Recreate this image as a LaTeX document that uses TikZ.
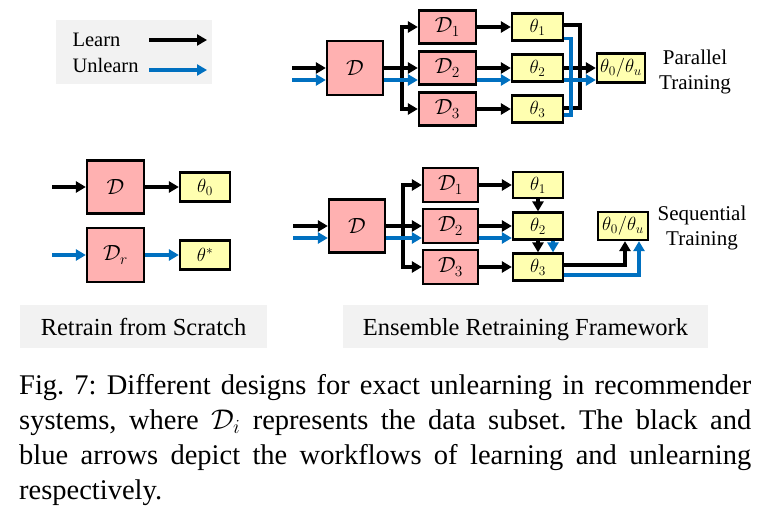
\documentclass[tikz,border=0pt]{standalone}
\usepackage{fix-cm}
\usepackage[no-math]{fontspec}
\setmainfont{Liberation Serif}
\usetikzlibrary{arrows.meta}
\definecolor{datapink}{RGB}{255,177,177}
\definecolor{modelyellow}{RGB}{255,255,176}
\definecolor{unblue}{RGB}{0,112,192}
\definecolor{panelgray}{RGB}{242,242,242}
\frenchspacing

\begin{document}
\begin{tikzpicture}[x=1pt,y=-1pt,
    data/.style={draw,line width=2.2pt,fill=datapink,inner sep=0pt,font=\fontsize{22}{26}\selectfont},
    model/.style={draw,line width=2.2pt,fill=modelyellow,inner sep=0pt,font=\fontsize{19}{22}\selectfont},
    learn/.style={line width=3.2pt,-{Triangle[length=10pt,width=11pt]}},
    learnbold/.style={learn,line width=4.8pt},
    unlearn/.style={learn,unblue},
    wire/.style={line width=3.2pt},
    panel/.style={fill=panelgray,inner sep=0pt,text depth=0pt,font=\fontsize{24.5}{28}\selectfont},
    tag/.style={align=center,font=\fontsize{21}{25}\selectfont}]
    \useasboundingbox (0,0) rectangle (771,516);

    % legend
    \fill[panelgray] (56,20) rectangle (212,84);
    \node[anchor=base west,font=\fontsize{20.5}{24}\selectfont] (lgl) at (69,47) {Learn};
    \node[anchor=base west,font=\fontsize{20.5}{24}\selectfont] (lgu) at (69,73) {Unlearn};
    \coordinate (lgla) at (149,40);
    \coordinate (lglb) at (207,40);
    \coordinate (lgua) at (149,70);
    \coordinate (lgub) at (207,70);
    \draw[learn] (lgla) -- (lglb);
    \draw[unlearn] (lgua) -- (lgub);

    % retrain from scratch
    \node[data,minimum width=57pt,minimum height=53pt] (d0) at (115.5,187) {$\mathcal{D}$};
    \node[model,minimum width=50pt,minimum height=29pt] (t0) at (205,187) {$\theta_0$};
    \node[data,minimum width=57pt,minimum height=54pt] (dr) at (115.5,255) {$\mathcal{D}_r$};
    \node[model,minimum width=50pt,minimum height=29pt] (ts) at (205,255) {$\theta^*$};
    \coordinate (in0) at (52,187);
    \coordinate (inr) at (52,255);
    \draw[learn] (in0) -- (d0);
    \draw[learn] (d0) -- (t0);
    \draw[unlearn] (inr) -- (dr);
    \draw[unlearn] (dr) -- (ts);

    % parallel training
    \node[data,minimum width=56pt,minimum height=54pt] (dA) at (355,68) {$\mathcal{D}$};
    \node[data,minimum width=57pt,minimum height=33pt] (dA1) at (447.5,27) {$\mathcal{D}_1$};
    \node[data,minimum width=57pt,minimum height=33pt] (dA2) at (447.5,68) {$\mathcal{D}_2$};
    \node[data,minimum width=57pt,minimum height=33pt] (dA3) at (447.5,109) {$\mathcal{D}_3$};
    \node[model,minimum width=51pt,minimum height=27pt] (tA1) at (537.5,27) {$\theta_1$};
    \node[model,minimum width=51pt,minimum height=27pt] (tA2) at (537.5,68) {$\theta_2$};
    \node[model,minimum width=51pt,minimum height=27pt] (tA3) at (537.5,109) {$\theta_3$};
    \node[model,minimum width=48pt,minimum height=29pt] (rA) at (621,68) {$\theta_0/\theta_u$};
    \node[tag] (lbA) at (695,72) {Parallel\\Training};
    \coordinate (inA) at (292,68);
    \coordinate (inAu) at (292,80);
    \coordinate (splitA) at (402,68);
    \coordinate (mergeA) at (580,68);
    \coordinate (mergeB) at (571,80);
    \draw[learn] (inA) -- (dA);
    \draw[unlearn] (inAu) -- ([yshift=-12pt]dA.west);
    \draw[learnbold] (dA) -- (dA2);
    \draw[learn] (splitA) |- (dA1);
    \draw[learn] (splitA) |- (dA3);
    \draw[unlearn] ([yshift=-12pt]dA.east) -- ([yshift=-12pt]dA2.west);
    \draw[learn] (dA1) -- (tA1);
    \draw[learnbold] (dA2) -- (tA2);
    \draw[learn] (dA3) -- (tA3);
    \draw[unlearn] ([yshift=-12pt]dA2.east) -- ([yshift=-12pt]tA2.west);
    \draw[wire] ([yshift=2pt]tA1.east) -| (mergeA) |- ([yshift=1pt]tA3.east);
    \draw[learnbold] (tA2) -- (rA);
    \draw[wire,unblue] ([yshift=-11.5pt]tA1.east) -| (mergeB) |- ([yshift=-6pt]tA3.east);
    \draw[unlearn] ([yshift=-12pt]tA2.east) -- ([yshift=-12pt]rA.west);

    % sequential training
    \node[data,minimum width=56pt,minimum height=53pt] (dB) at (357,226) {$\mathcal{D}$};
    \node[data,minimum width=55pt,minimum height=34pt] (dB1) at (450.5,185) {$\mathcal{D}_1$};
    \node[data,minimum width=55pt,minimum height=34pt] (dB2) at (450.5,226) {$\mathcal{D}_2$};
    \node[data,minimum width=55pt,minimum height=34pt] (dB3) at (450.5,267) {$\mathcal{D}_3$};
    \node[model,minimum width=50pt,minimum height=26pt] (tB1) at (538,185) {$\theta_1$};
    \node[model,minimum width=50pt,minimum height=27pt] (tB2) at (538,226) {$\theta_2$};
    \node[model,minimum width=50pt,minimum height=27pt] (tB3) at (538,267) {$\theta_3$};
    \node[model,minimum width=50pt,minimum height=28pt] (rB) at (623,226) {$\theta_0/\theta_u$};
    \node[tag] (lbB) at (702,228) {Sequential\\Training};
    \coordinate (inB) at (293,226);
    \coordinate (inBu) at (293,238);
    \coordinate (splitB) at (403,226);
    \draw[learn] (inB) -- (dB);
    \draw[unlearn] (inBu) -- ([yshift=-12pt]dB.west);
    \draw[learnbold] (dB) -- (dB2);
    \draw[learn] (splitB) |- (dB1);
    \draw[learn] (splitB) |- (dB3);
    \draw[unlearn] ([yshift=-12pt]dB.east) -- ([yshift=-12pt]dB2.west);
    \draw[learn] (dB1) -- (tB1);
    \draw[learnbold] (dB2) -- (tB2);
    \draw[learn] (dB3) -- (tB3);
    \draw[unlearn] ([yshift=-12pt]dB2.east) -- ([yshift=-12pt]tB2.west);
    \draw[learn] (tB1) -- (tB2);
    \draw[learn] (tB2) -- (tB3);
    \draw[unlearn] ([xshift=15pt]tB2.south) -- ([xshift=15pt]tB3.north);
    \draw[learnbold] ([yshift=2pt]tB3.east) -| ([xshift=2pt]rB.south);
    \draw[unlearn] ([yshift=-8pt]tB3.east) -| ([xshift=16pt]rB.south);

    % panel titles
    \node[panel,minimum width=247pt,minimum height=43pt] (ttA) at (143.5,326.5) {Retrain from Scratch};
    \node[panel,minimum width=365pt,minimum height=43pt] (ttB) at (525.5,326.5) {Ensemble Retraining Framework};

    % caption
    \node[anchor=north west,inner sep=0pt,text width=732pt,align=justify,
        font=\fontsize{28.5}{35}\selectfont] (cap) at (19,374)
        {Fig. 7: Different designs for exact unlearning in recommender\linebreak
        systems, where $\mathcal{D}_i$ represents the data subset. The black and\linebreak
        blue arrows depict the workflows of learning and unlearning\linebreak
        respectively.};
\end{tikzpicture}
\end{document}
